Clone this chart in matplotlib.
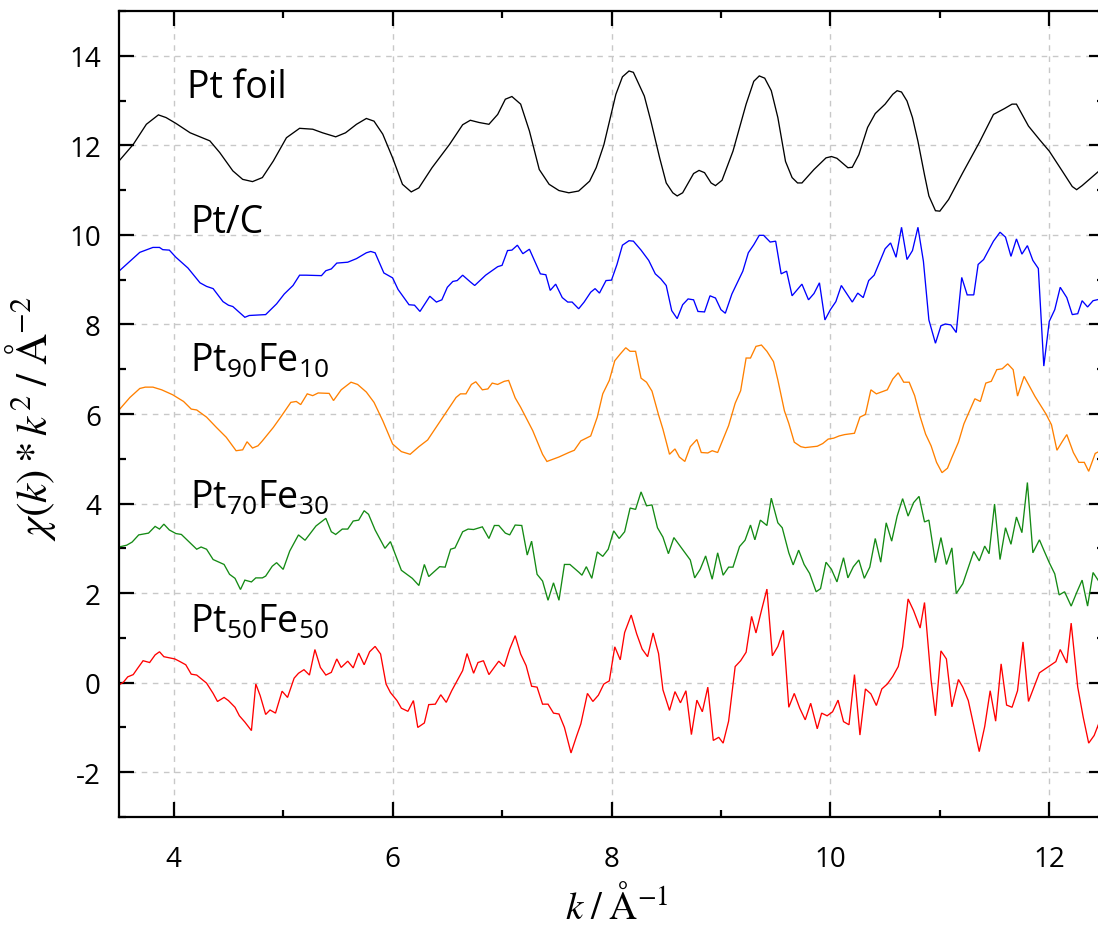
import matplotlib
matplotlib.use("Agg")
import matplotlib.pyplot as plt
from matplotlib.ticker import MultipleLocator

plt.rcParams['mathtext.fontset'] = 'custom'
plt.rcParams['mathtext.rm'] = 'Open Sans'
plt.rcParams['mathtext.it'] = 'Open Sans:italic'
plt.rcParams['mathtext.bf'] = 'Open Sans:bold'

# ---------------- data (k in 1/A, chi*k^2 offset) ----------------
k_foil = [3.50, 3.63, 3.75, 3.86, 3.93, 4.02, 4.15, 4.24, 4.33, 4.42, 4.54, 4.63, 4.72, 4.81, 4.91,
          5.03, 5.15, 5.27, 5.36, 5.48, 5.57, 5.67, 5.76, 5.83, 5.91, 6.00, 6.09, 6.17, 6.24, 6.36,
          6.52, 6.64, 6.71, 6.79, 6.88, 6.96, 7.03, 7.09, 7.17, 7.25, 7.34, 7.43, 7.52, 7.61, 7.70,
          7.80, 7.86, 7.93, 8.04, 8.10, 8.16, 8.20, 8.30, 8.36, 8.44, 8.50, 8.56, 8.60, 8.65, 8.75,
          8.80, 8.85, 8.91, 8.95, 9.01, 9.11, 9.23, 9.30, 9.35, 9.40, 9.46, 9.52, 9.59, 9.65, 9.70,
          9.74, 9.85, 9.96, 10.01, 10.06, 10.16, 10.20, 10.26, 10.34, 10.41, 10.50, 10.57, 10.61,
          10.65, 10.70, 10.75, 10.80, 10.86, 10.90, 10.96, 11.00, 11.08, 11.21, 11.36, 11.49, 11.59,
          11.66, 11.70, 11.81, 11.91, 12.00, 12.12, 12.21, 12.25, 12.30, 12.47]
v_foil = [11.65, 12.02, 12.47, 12.68, 12.62, 12.49, 12.28, 12.19, 12.10, 11.84, 11.43, 11.24, 11.19,
          11.28, 11.65, 12.17, 12.38, 12.36, 12.28, 12.19, 12.28, 12.47, 12.60, 12.54, 12.25, 11.72,
          11.13, 10.96, 11.05, 11.50, 12.02, 12.46, 12.56, 12.51, 12.47, 12.69, 13.03, 13.09, 12.92,
          12.32, 11.46, 11.13, 10.99, 10.94, 10.98, 11.20, 11.50, 12.01, 13.14, 13.53, 13.66, 13.63,
          13.10, 12.54, 11.72, 11.16, 10.94, 10.87, 10.94, 11.37, 11.44, 11.39, 11.16, 11.10, 11.22,
          11.87, 12.92, 13.43, 13.55, 13.50, 13.22, 12.62, 11.64, 11.28, 11.16, 11.16, 11.46, 11.72,
          11.75, 11.71, 11.50, 11.51, 11.79, 12.40, 12.71, 12.92, 13.14, 13.22, 13.19, 12.99, 12.62,
          12.09, 11.34, 10.87, 10.54, 10.53, 10.79, 11.39, 12.06, 12.69, 12.82, 12.92, 12.92, 12.43,
          12.13, 11.87, 11.42, 11.08, 11.01, 11.10, 11.46]

k_ptc = [3.50, 3.60, 3.69, 3.81, 3.87, 3.90, 3.96, 4.02, 4.13, 4.24, 4.30, 4.36, 4.45, 4.50, 4.54,
         4.65, 4.69, 4.84, 4.94, 5.01, 5.09, 5.15, 5.21, 5.35, 5.39, 5.44, 5.49, 5.59, 5.67, 5.76,
         5.80, 5.84, 5.92, 6.00, 6.05, 6.15, 6.20, 6.25, 6.34, 6.40, 6.45, 6.50, 6.55, 6.59, 6.64,
         6.71, 6.75, 6.85, 6.96, 7.00, 7.05, 7.09, 7.14, 7.19, 7.25, 7.35, 7.40, 7.44, 7.49, 7.55,
         7.60, 7.64, 7.70, 7.75, 7.81, 7.85, 7.89, 7.95, 8.00, 8.05, 8.10, 8.16, 8.20, 8.27, 8.34,
         8.40, 8.45, 8.50, 8.55, 8.60, 8.65, 8.70, 8.75, 8.79, 8.85, 8.90, 8.95, 9.00, 9.04, 9.10,
         9.20, 9.25, 9.30, 9.35, 9.39, 9.45, 9.50, 9.55, 9.60, 9.65, 9.74, 9.80, 9.85, 9.90, 9.95,
         10.00, 10.05, 10.10, 10.20, 10.25, 10.30, 10.35, 10.40, 10.50, 10.55, 10.60, 10.65, 10.70,
         10.75, 10.80, 10.85, 10.90, 10.96, 11.01, 11.05, 11.10, 11.15, 11.20, 11.25, 11.31, 11.35,
         11.40, 11.49, 11.55, 11.60, 11.65, 11.70, 11.75, 11.80, 11.85, 11.90, 11.95, 12.00, 12.05,
         12.10, 12.16, 12.21, 12.26, 12.30, 12.35, 12.40, 12.47]
v_ptc = [9.19, 9.41, 9.61, 9.72, 9.72, 9.67, 9.66, 9.50, 9.26, 8.93, 8.85, 8.80, 8.51, 8.43, 8.40,
         8.16, 8.20, 8.22, 8.46, 8.68, 8.87, 9.10, 9.10, 9.09, 9.20, 9.24, 9.37, 9.39, 9.47, 9.60,
         9.63, 9.60, 9.15, 9.04, 8.78, 8.44, 8.43, 8.29, 8.63, 8.50, 8.55, 8.83, 8.96, 8.98, 9.10,
         8.95, 8.87, 9.10, 9.29, 9.32, 9.65, 9.66, 9.77, 9.58, 9.68, 9.13, 9.11, 8.76, 8.90, 8.60,
         8.50, 8.50, 8.35, 8.50, 8.72, 8.80, 8.70, 8.98, 8.99, 9.34, 9.77, 9.87, 9.86, 9.66, 9.43,
         9.13, 9.02, 8.87, 8.31, 8.13, 8.44, 8.57, 8.55, 8.29, 8.28, 8.64, 8.59, 8.33, 8.25, 8.68,
         9.19, 9.60, 9.78, 9.99, 9.99, 9.84, 9.86, 9.13, 9.19, 8.64, 8.90, 8.55, 8.69, 8.93, 8.10,
         8.33, 8.51, 8.87, 8.50, 8.70, 8.60, 8.98, 9.10, 9.69, 9.82, 9.50, 10.17, 9.45, 9.65, 10.17,
         9.41, 8.10, 7.58, 7.97, 8.01, 7.99, 7.82, 9.05, 8.66, 8.66, 9.34, 9.45, 9.86, 10.06, 9.95,
         9.52, 9.91, 9.57, 9.76, 9.43, 9.25, 7.07, 8.07, 8.33, 8.83, 8.60, 8.22, 8.24, 8.53, 8.39,
         8.53, 8.57]

k_fe10 = [3.50, 3.60, 3.69, 3.74, 3.81, 3.89, 3.99, 4.09, 4.16, 4.21, 4.30, 4.39, 4.48, 4.57, 4.63,
          4.67, 4.72, 4.77, 4.81, 4.91, 4.98, 5.07, 5.12, 5.16, 5.22, 5.27, 5.32, 5.42, 5.46, 5.53,
          5.62, 5.68, 5.76, 5.83, 5.91, 6.00, 6.08, 6.16, 6.24, 6.32, 6.46, 6.58, 6.62, 6.67, 6.72,
          6.76, 6.82, 6.87, 6.91, 6.96, 7.02, 7.06, 7.12, 7.17, 7.28, 7.37, 7.41, 7.52, 7.61, 7.66,
          7.72, 7.81, 7.87, 7.92, 7.98, 8.03, 8.08, 8.13, 8.17, 8.22, 8.27, 8.32, 8.37, 8.43, 8.47,
          8.53, 8.58, 8.62, 8.67, 8.72, 8.78, 8.82, 8.88, 8.92, 8.97, 9.07, 9.13, 9.18, 9.23, 9.27,
          9.32, 9.37, 9.42, 9.48, 9.52, 9.58, 9.62, 9.67, 9.73, 9.77, 9.88, 9.93, 9.98, 10.03, 10.08,
          10.13, 10.22, 10.27, 10.32, 10.37, 10.42, 10.52, 10.57, 10.62, 10.67, 10.72, 10.77, 10.82,
          10.87, 10.92, 10.97, 11.02, 11.07, 11.11, 11.17, 11.22, 11.27, 11.32, 11.37, 11.42, 11.47,
          11.52, 11.57, 11.62, 11.67, 11.71, 11.77, 11.87, 11.97, 12.02, 12.07, 12.12, 12.16, 12.22,
          12.27, 12.32, 12.36, 12.42, 12.47]
v_fe10 = [6.09, 6.37, 6.57, 6.60, 6.60, 6.54, 6.43, 6.28, 6.11, 6.09, 5.93, 5.70, 5.48, 5.18, 5.20,
          5.38, 5.24, 5.29, 5.40, 5.70, 5.94, 6.26, 6.28, 6.21, 6.45, 6.41, 6.47, 6.46, 6.30, 6.54,
          6.71, 6.66, 6.49, 6.26, 5.85, 5.33, 5.16, 5.10, 5.27, 5.42, 5.93, 6.37, 6.45, 6.45, 6.66,
          6.72, 6.54, 6.56, 6.69, 6.66, 6.73, 6.75, 6.36, 6.15, 5.63, 5.10, 4.94, 5.04, 5.14, 5.19,
          5.40, 5.51, 5.93, 6.45, 6.75, 7.19, 7.34, 7.48, 7.40, 7.40, 6.80, 6.71, 6.51, 5.98, 5.66,
          5.10, 5.22, 5.04, 4.94, 5.27, 5.43, 5.14, 5.13, 5.18, 5.14, 5.74, 6.24, 6.52, 7.25, 7.25,
          7.51, 7.54, 7.40, 7.17, 6.76, 6.07, 5.79, 5.37, 5.27, 5.25, 5.28, 5.34, 5.44, 5.46, 5.51,
          5.54, 5.57, 5.93, 5.99, 6.54, 6.45, 6.54, 6.78, 6.92, 6.71, 6.71, 6.41, 5.94, 5.55, 5.29,
          4.92, 4.69, 4.79, 5.03, 5.37, 5.78, 6.06, 6.34, 6.28, 6.69, 6.73, 6.99, 7.01, 7.12, 6.99,
          6.40, 6.84, 6.39, 6.00, 5.76, 5.19, 5.39, 5.54, 5.14, 4.92, 4.92, 4.72, 5.12, 5.18]

k_fe30 = [3.50, 3.57, 3.62, 3.68, 3.77, 3.83, 3.87, 3.91, 3.96, 4.02, 4.07, 4.21, 4.25, 4.30, 4.36,
          4.46, 4.51, 4.56, 4.61, 4.65, 4.71, 4.75, 4.81, 4.84, 4.90, 4.94, 5.00, 5.06, 5.14, 5.20,
          5.30, 5.39, 5.44, 5.48, 5.54, 5.59, 5.64, 5.69, 5.74, 5.78, 5.84, 5.93, 5.98, 6.08, 6.18,
          6.24, 6.29, 6.33, 6.43, 6.48, 6.53, 6.57, 6.64, 6.69, 6.74, 6.82, 6.88, 6.93, 6.97, 7.03,
          7.07, 7.12, 7.18, 7.23, 7.27, 7.32, 7.37, 7.42, 7.47, 7.52, 7.57, 7.62, 7.70, 7.73, 7.77,
          7.82, 7.87, 7.92, 7.97, 8.02, 8.07, 8.12, 8.17, 8.22, 8.27, 8.32, 8.37, 8.42, 8.47, 8.52,
          8.57, 8.72, 8.76, 8.81, 8.86, 8.92, 8.97, 9.02, 9.07, 9.11, 9.17, 9.22, 9.27, 9.31, 9.36,
          9.42, 9.46, 9.52, 9.56, 9.62, 9.66, 9.71, 9.76, 9.81, 9.87, 9.91, 9.96, 10.01, 10.06, 10.12,
          10.16, 10.21, 10.26, 10.31, 10.36, 10.41, 10.46, 10.51, 10.56, 10.61, 10.66, 10.71, 10.76,
          10.81, 10.86, 10.90, 10.96, 11.01, 11.06, 11.11, 11.15, 11.21, 11.31, 11.36, 11.41, 11.45,
          11.50, 11.55, 11.60, 11.65, 11.70, 11.75, 11.80, 11.85, 11.91, 11.95, 12.00, 12.05, 12.09,
          12.14, 12.20, 12.25, 12.30, 12.35, 12.40, 12.47]
v_fe30 = [3.03, 3.07, 3.14, 3.30, 3.34, 3.49, 3.43, 3.54, 3.41, 3.33, 3.31, 2.98, 3.03, 2.98, 2.75,
          2.64, 2.42, 2.33, 2.08, 2.29, 2.25, 2.34, 2.34, 2.38, 2.60, 2.68, 2.53, 2.94, 3.30, 3.18,
          3.50, 3.67, 3.37, 3.31, 3.43, 3.43, 3.61, 3.63, 3.84, 3.76, 3.41, 3.00, 3.15, 2.51, 2.33,
          2.17, 2.64, 2.37, 2.59, 2.58, 2.98, 3.01, 3.37, 3.43, 3.42, 3.48, 3.22, 3.51, 3.51, 3.34,
          3.30, 3.52, 3.51, 2.85, 3.16, 2.42, 2.27, 1.84, 2.23, 1.84, 2.64, 2.64, 2.47, 2.40, 2.59,
          2.33, 2.92, 2.82, 2.98, 3.39, 3.22, 3.37, 3.90, 3.87, 4.26, 3.95, 3.97, 3.46, 3.25, 2.88,
          3.24, 2.74, 2.34, 2.53, 2.83, 2.31, 2.90, 2.40, 2.58, 2.58, 3.04, 3.18, 3.52, 3.19, 3.63,
          3.51, 4.12, 3.57, 3.46, 2.90, 2.63, 2.96, 2.64, 2.44, 2.03, 2.10, 2.69, 2.53, 2.25, 2.79,
          2.34, 2.59, 2.74, 2.33, 2.58, 3.22, 2.69, 3.57, 3.16, 3.72, 4.11, 3.72, 4.02, 4.16, 3.59,
          3.63, 2.68, 3.24, 2.64, 3.01, 1.99, 2.21, 2.93, 2.72, 3.05, 2.88, 3.99, 2.75, 3.46, 3.09,
          3.70, 3.35, 4.47, 2.90, 3.19, 2.96, 2.68, 2.43, 1.96, 2.03, 1.71, 2.01, 2.29, 1.71, 2.46,
          2.20]

k_fe50 = [3.50, 3.54, 3.58, 3.63, 3.67, 3.72, 3.78, 3.83, 3.87, 3.91, 4.01, 4.05, 4.11, 4.16, 4.21,
          4.30, 4.36, 4.40, 4.46, 4.50, 4.56, 4.60, 4.65, 4.71, 4.75, 4.79, 4.84, 4.88, 4.93, 4.99,
          5.04, 5.10, 5.14, 5.19, 5.24, 5.29, 5.34, 5.39, 5.44, 5.49, 5.53, 5.59, 5.64, 5.69, 5.74,
          5.79, 5.84, 5.89, 5.94, 5.98, 6.04, 6.08, 6.14, 6.19, 6.23, 6.29, 6.33, 6.39, 6.44, 6.49,
          6.54, 6.64, 6.68, 6.74, 6.78, 6.83, 6.88, 6.97, 7.02, 7.07, 7.12, 7.17, 7.22, 7.27, 7.32,
          7.37, 7.42, 7.47, 7.52, 7.57, 7.63, 7.68, 7.72, 7.78, 7.83, 7.88, 7.93, 7.98, 8.03, 8.08,
          8.12, 8.18, 8.23, 8.28, 8.33, 8.38, 8.43, 8.47, 8.53, 8.58, 8.63, 8.68, 8.73, 8.78, 8.83,
          8.88, 8.93, 8.98, 9.02, 9.07, 9.13, 9.18, 9.23, 9.28, 9.32, 9.37, 9.42, 9.47, 9.52, 9.57,
          9.62, 9.67, 9.72, 9.77, 9.82, 9.88, 9.92, 9.97, 10.02, 10.07, 10.12, 10.17, 10.22, 10.27,
          10.32, 10.37, 10.42, 10.47, 10.52, 10.57, 10.62, 10.66, 10.71, 10.76, 10.82, 10.86, 10.92,
          10.96, 11.01, 11.06, 11.11, 11.17, 11.21, 11.26, 11.31, 11.36, 11.41, 11.46, 11.51, 11.56,
          11.61, 11.66, 11.71, 11.76, 11.81, 11.86, 11.91, 12.06, 12.10, 12.16, 12.20, 12.26, 12.31,
          12.36, 12.41, 12.47]
v_fe50 = [-0.05, 0.01, 0.13, 0.18, 0.32, 0.49, 0.45, 0.62, 0.69, 0.58, 0.53, 0.48, 0.40, 0.19, 0.17,
          -0.01, -0.24, -0.42, -0.33, -0.40, -0.55, -0.74, -0.88, -1.07, -0.03, -0.29, -0.71, -0.61,
          -0.68, -0.19, -0.33, 0.10, 0.21, 0.29, 0.17, 0.74, 0.34, 0.17, 0.23, 0.53, 0.34, 0.48,
          0.33, 0.66, 0.40, 0.69, 0.81, 0.64, -0.03, -0.22, -0.40, -0.57, -0.64, -0.40, -1.00, -0.90,
          -0.49, -0.48, -0.27, -0.44, -0.18, 0.27, 0.65, 0.21, 0.45, 0.49, 0.18, 0.48, 0.36, 0.75,
          1.05, 0.64, 0.38, -0.08, -0.10, -0.48, -0.48, -0.68, -0.70, -1.00, -1.57, -1.20, -0.92,
          -0.24, -0.42, -0.28, -0.03, 0.04, 0.80, 0.51, 1.12, 1.51, 1.09, 0.75, 0.58, 1.11, 0.65,
          -0.16, -0.62, -0.20, -0.45, -0.18, -1.16, -0.39, -0.65, -0.10, -1.29, -1.22, -1.35, -0.86,
          0.36, 0.49, 0.68, 1.48, 1.11, 1.61, 2.09, 0.60, 0.81, 1.17, -0.55, -0.24, -0.57, -0.83,
          -0.46, -1.03, -0.68, -0.74, -0.65, -0.39, -0.87, -0.94, 0.18, -1.17, -0.14, -0.25, -0.51,
          -0.14, -0.03, 0.14, 0.36, 0.80, 1.87, 1.61, 1.22, 1.79, 0.06, -0.74, 0.71, 0.53, -0.54,
          0.07, -0.10, -0.40, -0.96, -1.54, -0.98, -0.18, -0.86, 0.42, -0.50, -0.55, -0.18, 0.91,
          -0.42, -0.10, 0.22, 0.47, 0.74, 0.44, 1.33, -0.10, -0.77, -1.35, -1.18, -0.80]

series_k = [k_foil, k_ptc, k_fe10, k_fe30, k_fe50]
series_v = [v_foil, v_ptc, v_fe10, v_fe30, v_fe50]
series_labels = ['Pt foil', 'Pt/C', r'Pt$_{90}$Fe$_{10}$', r'Pt$_{70}$Fe$_{30}$', r'Pt$_{50}$Fe$_{50}$']
series_colors = ['#000000', '#0000ff', '#ff8000', '#148a14', '#ff0000']
label_x = [4.12, 4.15, 4.15, 4.15, 4.15]
label_y = [13.08, 10.07, 6.97, 3.9, 1.14]

x_ticks = [4, 6, 8, 10, 12]
y_ticks = [-2, 0, 2, 4, 6, 8, 10, 12, 14]

# ---------------- figure ----------------
W, H = 1098, 928
fig = plt.figure(figsize=(W / 100, H / 100), dpi=100)
ax = fig.add_axes([119 / W, 1 - 818 / H, (1104 - 119) / W, (818 - 12) / H])

for kk, vv, c in zip(series_k, series_v, series_colors):
    ax.plot(kk, vv, color=c, lw=0.95, solid_joinstyle='miter')

for lab, lx, ly in zip(series_labels, label_x, label_y):
    ax.text(lx, ly, lab, fontsize=27, family='Open Sans', ha='left', va='baseline')

ax.set_xlim(3.5, 12.50)
ax.set_ylim(-3, 15)
ax.set_xticks(x_ticks)
ax.set_xticklabels([str(t) for t in x_ticks])
ax.set_yticks(y_ticks)
ax.set_yticklabels([str(t) for t in y_ticks])
ax.xaxis.set_minor_locator(MultipleLocator(1))
ax.yaxis.set_minor_locator(MultipleLocator(1))
ax.tick_params(which='both', direction='in', top=True, right=True, width=1.6)
ax.tick_params(which='major', length=11)
ax.tick_params(which='minor', length=5)
ax.tick_params(axis='x', which='major', pad=20, labelsize=20)
ax.tick_params(axis='y', which='major', pad=13, labelsize=20)
for lbl in ax.get_xticklabels() + ax.get_yticklabels():
    lbl.set_family('Open Sans')
for s in ax.spines.values():
    s.set_linewidth(1.6)

ax.grid(True, which='major', color='#c8c8c8', linestyle=(0, (4, 4)), lw=1.0)
ax.set_axisbelow(True)

ax.set_xlabel(r'$k\;/\;\mathrm{\AA}^{-1}$', fontsize=28, math_fontfamily='stix')
ax.set_ylabel(r'$\chi(k)*k^{2}\;/\;\mathrm{\AA}^{-2}$', fontsize=31, math_fontfamily='stix')
ax.xaxis.set_label_coords(0.505, -0.083)
ax.yaxis.set_label_coords(-0.062, 0.496)

fig.savefig('out.png', dpi=100)
